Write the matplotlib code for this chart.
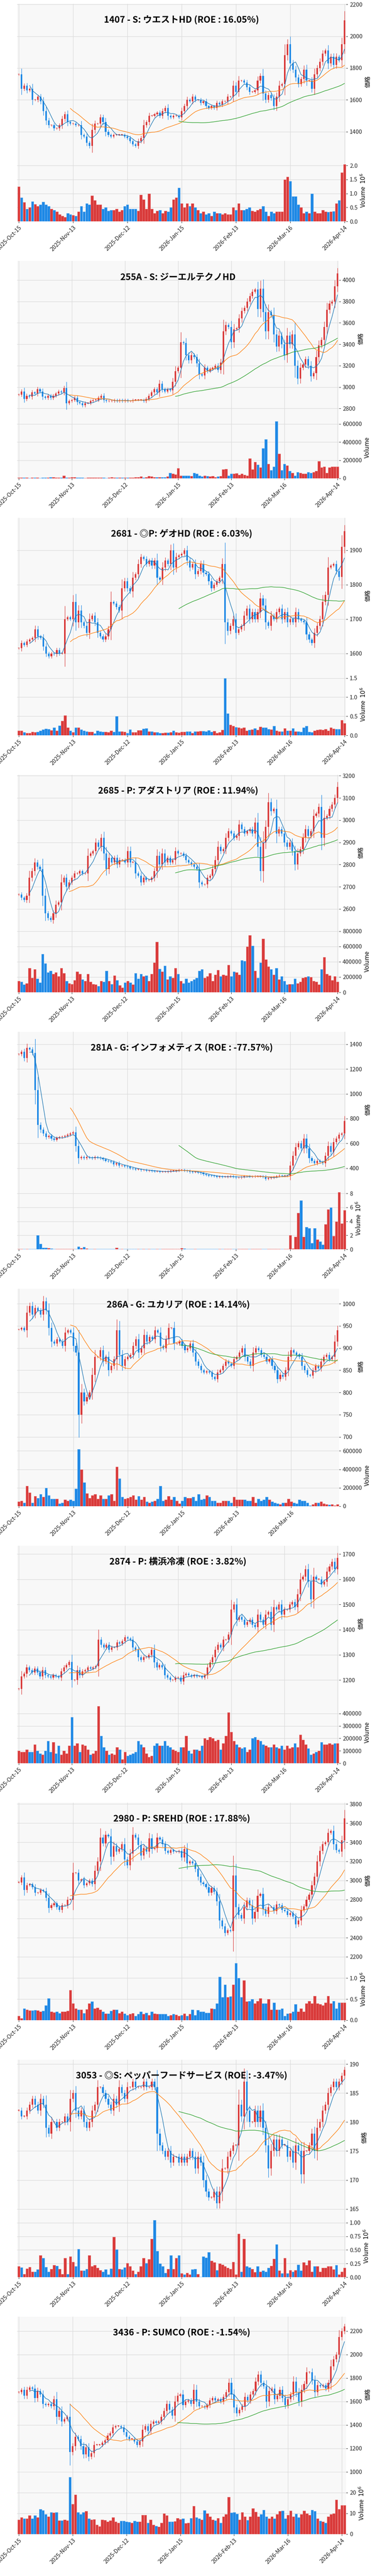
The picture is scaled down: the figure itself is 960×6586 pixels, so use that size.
import numpy as np
import pandas as pd
import matplotlib
matplotlib.use("Agg")
import matplotlib.pyplot as plt

plt.rcParams['font.family'] = ['Noto Sans CJK JP', 'DejaVu Sans']

date_ticks = [0, 20, 40, 60, 80, 100, 120]
date_labels = ['2025-Oct-15', '2025-Nov-13', '2025-Dec-12', '2026-Jan-15',
               '2026-Feb-13', '2026-Mar-16', '2026-Apr-14']

titles = [
    "1407 - S: ウエストHD (ROE : 16.05%)",
    "255A - S: ジーエルテクノHD",
    "2681 - ◎P: ゲオHD (ROE : 6.03%)",
    "2685 - P: アダストリア (ROE : 11.94%)",
    "281A - G: インフォメティス (ROE : -77.57%)",
    "286A - G: ユカリア (ROE : 14.14%)",
    "2874 - P: 横浜冷凍 (ROE : 3.82%)",
    "2980 - P: SREHD (ROE : 17.88%)",
    "3053 - ◎S: ペッパーフードサービス (ROE : -3.47%)",
    "3436 - P: SUMCO (ROE : -1.54%)",
]

close_1407 = [1760,1670,1690,1660,1670,1600,1600,1620,1590,1530,
 1470,1440,1440,1420,1420,1440,1480,1510,1460,1450,
 1450,1440,1440,1380,1370,1330,1310,1410,1450,1450,
 1490,1460,1400,1380,1370,1380,1380,1380,1380,1370,
 1360,1340,1320,1310,1340,1360,1440,1460,1500,1500,
 1510,1520,1500,1530,1550,1500,1490,1500,1500,1490,
 1530,1560,1600,1590,1620,1600,1600,1580,1590,1560,
 1550,1560,1550,1580,1570,1590,1590,1620,1620,1690,
 1650,1720,1720,1710,1680,1650,1650,1660,1720,1750,
 1640,1600,1630,1610,1560,1620,1690,1700,1880,1950,
 1830,1790,1740,1700,1730,1790,1720,1720,1670,1760,
 1800,1840,1890,1910,1830,1870,1820,1870,1850,1950,2100]
vol_1407 = [1.25,0.85,0.68,0.45,0.50,0.72,0.62,0.55,0.60,0.70,
 0.60,0.55,0.45,0.40,0.35,0.25,0.20,0.15,0.30,0.25,
 0.22,0.20,0.35,0.55,0.35,0.65,0.60,0.92,0.75,0.60,
 0.60,0.45,0.50,0.38,0.40,0.40,0.45,0.35,0.40,0.55,
 0.60,0.45,0.45,0.45,0.38,0.95,0.78,0.45,1.00,0.45,
 0.30,0.38,0.40,0.30,0.38,0.35,0.50,0.78,0.85,1.20,
 0.65,0.50,0.65,0.55,0.65,0.50,0.40,0.30,0.35,0.25,
 0.30,0.20,0.35,0.30,0.30,0.25,0.30,0.25,0.25,0.50,
 0.40,0.65,0.40,0.40,0.45,0.50,0.38,0.35,0.40,0.45,
 0.55,0.35,0.20,0.35,0.30,0.35,0.35,0.35,1.50,1.60,
 1.45,0.90,0.90,0.60,0.50,0.30,0.35,0.30,1.00,0.35,
 0.30,0.30,0.40,0.35,0.33,0.35,0.37,0.65,0.75,1.75,2.05]

close_255A = [2930,2960,2890,2920,2910,2950,2940,2980,2960,2910,
 2900,2920,2900,2920,2940,2960,2950,2990,2850,2870,
 2880,2900,2860,2850,2830,2850,2850,2870,2880,2880,
 2900,2920,2880,2870,2870,2870,2880,2870,2880,2870,
 2880,2870,2870,2880,2880,2880,2880,2870,2890,2920,
 2950,2980,2950,3030,2980,2960,2980,2970,3050,3150,
 3180,3420,3410,3300,3250,3300,3280,3220,3120,3110,
 3180,3150,3170,3180,3200,3160,3230,3520,3580,3560,
 3420,3540,3550,3640,3710,3740,3800,3850,3890,3910,
 3730,3920,3700,3520,3700,3670,3490,3380,3480,3400,
 3300,3480,3400,3490,3200,3080,3180,3210,3260,3200,
 3100,3130,3280,3390,3440,3560,3720,3780,3800,3940,4060]
vol_255A = [10000,8000,9000,7000,6000,8000,9000,7000,6000,8000,
 9000,10000,12000,15000,9000,8000,10000,30000,10000,8000,
 15000,12000,8000,10000,8000,6000,10000,9000,8000,7000,
 8000,9000,7000,6000,9000,12000,10000,8000,9000,10000,
 7000,8000,10000,8000,12000,15000,20000,10000,15000,25000,
 20000,12000,15000,15000,12000,15000,20000,60000,50000,45000,
 110000,30000,30000,30000,30000,25000,60000,50000,30000,20000,
 30000,25000,20000,25000,15000,20000,25000,100000,105000,30000,
 50000,50000,55000,40000,50000,40000,30000,220000,100000,180000,
 150000,120000,330000,430000,160000,90000,130000,630000,270000,90000,
 160000,140000,80000,60000,30000,70000,60000,50000,50000,70000,
 60000,70000,80000,190000,120000,130000,60000,120000,130000,130000,130000]

close_2681 = [1615,1630,1625,1635,1640,1645,1670,1650,1645,1620,
 1600,1592,1600,1598,1610,1600,1600,1700,1705,1700,
 1750,1690,1725,1690,1680,1660,1700,1710,1690,1660,
 1650,1640,1650,1670,1750,1745,1735,1725,1790,1810,
 1790,1780,1820,1830,1860,1880,1875,1860,1870,1855,
 1870,1820,1815,1850,1870,1860,1900,1850,1880,1885,
 1890,1900,1870,1850,1860,1830,1840,1860,1835,1830,
 1810,1790,1800,1810,1820,1860,1690,1665,1680,1700,
 1660,1670,1680,1710,1730,1700,1720,1700,1720,1760,
 1740,1690,1680,1710,1700,1720,1730,1700,1720,1690,
 1700,1690,1720,1700,1695,1690,1655,1640,1630,1660,
 1680,1700,1750,1770,1850,1855,1860,1840,1822,1910,1955]
vol_2681 = [0.12,0.12,0.08,0.06,0.06,0.09,0.08,0.09,0.12,0.15,
 0.17,0.16,0.13,0.20,0.12,0.26,0.38,0.52,0.20,0.12,
 0.08,0.20,0.20,0.15,0.12,0.10,0.09,0.09,0.05,0.12,
 0.10,0.09,0.09,0.08,0.12,0.09,0.50,0.10,0.10,0.09,
 0.06,0.15,0.08,0.08,0.13,0.13,0.17,0.18,0.10,0.10,
 0.08,0.08,0.06,0.06,0.07,0.07,0.08,0.12,0.08,0.07,
 0.09,0.09,0.10,0.10,0.06,0.10,0.10,0.11,0.11,0.10,
 0.13,0.09,0.11,0.06,0.08,0.14,1.50,0.57,0.28,0.25,
 0.22,0.20,0.18,0.20,0.12,0.14,0.15,0.18,0.14,0.23,
 0.20,0.20,0.16,0.15,0.25,0.12,0.10,0.10,0.18,0.12,
 0.12,0.18,0.10,0.10,0.09,0.20,0.25,0.09,0.08,0.12,
 0.14,0.15,0.14,0.16,0.12,0.20,0.17,0.16,0.16,0.40,0.32]

close_2685 = [2665,2650,2640,2660,2740,2770,2810,2790,2780,2660,
 2580,2560,2550,2580,2620,2630,2720,2740,2700,2720,
 2740,2760,2760,2770,2760,2760,2840,2850,2860,2900,
 2880,2920,2850,2780,2830,2810,2830,2800,2820,2820,
 2810,2860,2810,2810,2760,2750,2720,2740,2730,2730,
 2740,2770,2840,2800,2850,2810,2830,2810,2820,2860,
 2850,2850,2840,2820,2810,2800,2790,2780,2720,2710,
 2710,2740,2750,2780,2820,2880,2860,2870,2920,2950,
 2940,2920,2930,2980,2960,2940,2950,2960,2940,2990,
 2880,2770,2900,2970,3080,3040,3050,2940,2960,2940,
 2900,2880,2900,2860,2800,2850,2870,2920,2960,2930,
 2950,3020,3030,3060,2920,3010,3020,3050,3070,3100,3150]
vol_2685 = [150000,140000,100000,120000,320000,190000,300000,180000,130000,500000,
 380000,260000,280000,240000,260000,210000,320000,250000,150000,120000,
 110000,160000,270000,240000,170000,150000,240000,140000,110000,100000,
 80000,150000,140000,280000,150000,110000,220000,160000,90000,60000,
 130000,150000,130000,100000,250000,180000,240000,210000,220000,150000,
 240000,390000,660000,310000,270000,350000,170000,210000,190000,320000,
 240000,150000,120000,180000,130000,150000,170000,190000,280000,300000,
 190000,210000,250000,150000,230000,290000,210000,230000,220000,360000,
 210000,270000,260000,230000,420000,410000,600000,750000,610000,280000,
 190000,390000,700000,430000,340000,300000,230000,320000,170000,210000,
 150000,100000,110000,110000,180000,120000,140000,190000,200000,210000,
 200000,150000,140000,100000,300000,460000,240000,220000,160000,210000,140000,250000]

close_281A = [1320,1340,1290,1370,1360,1330,1030,750,710,680,
 650,660,640,630,645,650,655,660,670,680,
 690,580,480,490,480,490,485,480,490,485,
 480,470,460,455,450,430,440,420,420,415,
 410,400,395,390,390,385,385,380,380,378,
 375,375,372,372,372,375,378,378,380,385,
 385,380,378,370,368,368,365,360,350,345,
 340,338,335,330,332,330,330,332,335,330,
 325,325,330,335,335,333,333,335,335,335,
 330,315,320,325,330,335,340,338,338,340,
 420,500,570,600,560,640,560,480,460,440,
 460,450,440,500,580,530,610,640,670,680,780]
vol_281A = [0.03,0.03,0.03,0.03,0.03,0.03,0.03,2.0,0.8,0.25,
 0.2,0.15,0.1,0.05,0.08,0.05,0.03,0.03,0.03,0.05,
 0.05,0.03,0.4,0.15,0.35,0.1,0.03,0.03,0.03,0.03,
 0.03,0.03,0.03,0.03,0.03,0.03,0.2,0.05,0.03,0.03,
 0.03,0.05,0.03,0.03,0.03,0.05,0.03,0.08,0.05,0.03,
 0.03,0.03,0.03,0.05,0.03,0.03,0.03,0.03,0.03,0.05,
 0.15,0.12,0.05,0.03,0.03,0.03,0.03,0.03,0.03,0.03,
 0.03,0.03,0.03,0.03,0.03,0.03,0.03,0.03,0.03,0.03,
 0.05,0.03,0.03,0.03,0.03,0.03,0.03,0.03,0.03,0.03,
 0.03,0.03,0.03,0.03,0.05,0.03,0.03,0.03,0.03,0.03,
 2.0,0.1,1.8,5.2,7.0,1.8,3.2,3.0,0.9,3.0,
 1.4,1.1,0.7,3.6,5.7,6.0,1.9,4.0,8.2,3.7,5.6]

close_286A = [942,945,940,980,995,975,990,985,975,1005,
 985,945,915,910,920,915,905,935,940,935,
 905,890,750,800,780,790,800,840,880,880,
 895,870,880,850,860,875,940,885,860,875,
 880,885,905,920,890,900,930,915,925,920,
 940,935,905,900,920,945,945,910,910,915,
 905,895,900,910,890,870,860,850,845,848,
 845,835,830,845,850,860,870,865,860,875,
 880,890,900,880,870,860,890,900,895,885,
 880,870,875,860,850,830,840,835,850,880,
 895,890,885,880,860,850,840,838,850,860,
 855,870,880,885,875,880,915,940]
vol_286A = [50000,60000,40000,220000,150000,40000,110000,90000,130000,100000,
 200000,120000,80000,80000,80000,30000,40000,70000,60000,70000,
 60000,190000,620000,400000,260000,140000,90000,120000,130000,80000,
 120000,80000,80000,120000,130000,60000,430000,300000,100000,80000,
 90000,100000,120000,70000,110000,70000,100000,50000,40000,50000,
 60000,80000,220000,60000,70000,110000,70000,100000,60000,30000,
 60000,100000,90000,90000,100000,60000,130000,70000,80000,120000,
 100000,60000,60000,40000,40000,60000,60000,60000,40000,100000,
 70000,70000,70000,70000,60000,60000,100000,40000,80000,60000,
 70000,100000,70000,50000,40000,30000,20000,40000,40000,80000,
 50000,40000,30000,70000,60000,60000,40000,10000,20000,40000,
 40000,50000,30000,20000,15000,20000,10000,20000,110000,130000]

close_2874 = [1165,1215,1225,1250,1240,1230,1245,1230,1215,1240,
 1220,1215,1210,1220,1215,1210,1235,1250,1260,1272,
 1200,1200,1240,1220,1235,1240,1250,1245,1250,1255,
 1360,1340,1330,1340,1320,1330,1330,1350,1345,1355,
 1370,1365,1360,1330,1320,1290,1280,1290,1290,1300,
 1320,1270,1250,1260,1250,1220,1210,1200,1200,1210,
 1210,1195,1220,1225,1220,1215,1220,1215,1215,1210,
 1220,1250,1270,1290,1320,1340,1330,1360,1360,1380,
 1480,1500,1440,1450,1440,1420,1430,1440,1420,1410,
 1460,1440,1420,1460,1470,1420,1490,1480,1500,1460,
 1480,1480,1500,1510,1490,1540,1600,1610,1640,1590,
 1520,1610,1600,1600,1580,1590,1630,1650,1670,1640,1685]
vol_2874 = [100000,90000,90000,110000,90000,90000,150000,100000,80000,70000,
 100000,180000,90000,170000,80000,140000,70000,100000,80000,140000,
 370000,140000,160000,90000,150000,140000,110000,70000,80000,100000,
 460000,220000,130000,100000,70000,80000,70000,130000,110000,30000,
 90000,60000,70000,80000,90000,180000,150000,130000,80000,50000,
 60000,140000,160000,140000,140000,180000,140000,130000,110000,100000,
 90000,130000,130000,220000,100000,80000,110000,110000,100000,140000,
 200000,190000,210000,200000,180000,190000,110000,160000,220000,410000,
 250000,180000,150000,130000,120000,130000,90000,110000,200000,210000,
 190000,180000,150000,140000,130000,130000,150000,130000,120000,140000,
 110000,140000,120000,130000,160000,130000,230000,190000,150000,120000,
 70000,80000,90000,100000,170000,150000,150000,160000,150000,160000,160000]

close_2980 = [2980,3030,2900,2950,2960,2930,2870,2870,2900,2890,
 2820,2710,2740,2760,2720,2690,2740,2740,2800,2800,
 3080,3080,3000,3010,2950,2970,3000,2960,3100,3200,
 3450,3390,3480,3460,3250,3360,3300,3330,3380,3220,
 3160,3280,3480,3450,3370,3260,3340,3300,3440,3330,
 3340,3450,3430,3380,3310,3290,3320,3300,3300,3310,
 3240,3330,3180,3200,3180,3120,3040,2980,2960,2930,
 2870,2920,2880,2780,2580,2520,2450,2480,2470,3050,
 2720,2640,2600,2720,2790,2740,2600,2670,2840,2860,
 2700,2650,2720,2720,2680,2750,2740,2690,2680,2640,
 2660,2620,2540,2580,2690,2730,2800,2850,2950,3040,
 3200,3310,3380,3400,3500,3520,3380,3320,3300,3420,3650]
vol_2980 = [0.10,0.05,0.28,0.25,0.23,0.23,0.24,0.23,0.20,0.22,
 0.35,0.52,0.20,0.19,0.20,0.17,0.20,0.20,0.22,0.72,
 0.40,0.28,0.25,0.25,0.17,0.26,0.40,0.45,0.28,0.30,
 0.25,0.20,0.16,0.16,0.22,0.25,0.25,0.17,0.20,0.16,
 0.12,0.15,0.17,0.10,0.15,0.20,0.15,0.18,0.12,0.20,
 0.16,0.15,0.15,0.15,0.15,0.10,0.12,0.15,0.13,0.10,
 0.12,0.16,0.10,0.15,0.25,0.12,0.24,0.20,0.20,0.18,
 0.18,0.28,0.27,0.40,1.03,0.55,0.85,0.55,0.57,0.85,
 1.36,1.00,0.55,0.95,0.45,0.46,0.50,0.40,0.46,0.52,
 0.40,0.40,0.50,0.25,0.42,0.25,0.25,0.28,0.10,0.16,
 0.17,0.20,0.38,0.20,0.28,0.20,0.40,0.46,0.40,0.58,
 0.40,0.38,0.35,0.42,0.58,0.40,0.46,0.28,0.42,0.42,0.42]

close_3053 = [182,181,181,182,183,184,183,182,184,183,
 179,178,180,180,179,180,180,181,180,184,
 185,182,181,182,180,179,180,182,183,186,
 186,185,184,183,182,184,183,186,185,184,
 186,186,187,186,186,186,187,186,186,187,
 186,178,176,175,174,175,173,174,174,173,
 174,173,174,175,174,172,174,173,170,168,
 167,167,168,166,168,172,172,174,175,176,
 176,183,181,187,182,180,180,182,180,182,
 179,176,172,175,177,175,177,176,176,174,
 175,173,176,175,171,175,175,176,178,175,
 179,180,182,183,185,186,187,186,187,188,189]
vol_3053 = [0.20,0.18,0.06,0.16,0.19,0.10,0.10,0.14,0.40,0.35,
 0.19,0.10,0.15,0.22,0.21,0.15,0.06,0.35,0.06,0.38,
 0.28,0.20,0.52,0.12,0.12,0.15,0.40,0.20,0.22,0.17,
 0.13,0.10,0.14,0.05,0.16,0.74,0.51,0.15,0.14,0.18,
 0.26,0.20,0.12,0.06,0.10,0.20,0.35,0.26,0.33,0.70,
 1.05,0.48,0.25,0.20,0.08,0.15,0.40,0.15,0.35,0.40,
 0.07,0.05,0.08,0.05,0.14,0.15,0.06,0.01,0.38,0.36,
 0.46,0.30,0.27,0.13,0.25,0.23,0.20,0.17,0.15,0.28,
 0.05,0.80,0.10,0.70,0.20,0.18,0.15,0.09,0.20,0.10,
 0.12,0.10,0.17,0.21,0.34,0.60,0.12,0.07,0.35,0.07,
 0.13,0.10,0.13,0.23,0.12,0.27,0.22,0.31,0.10,0.20,
 0.20,0.10,0.17,0.17,0.20,0.20,0.14,0.22,0.05,0.10,0.17]

close_3436 = [1680,1700,1650,1700,1720,1710,1630,1690,1660,1580,
 1570,1580,1560,1620,1470,1520,1430,1450,1470,1170,
 1220,1300,1280,1220,1150,1210,1130,1160,1230,1230,
 1230,1250,1270,1310,1330,1380,1390,1390,1380,1340,
 1300,1280,1280,1260,1230,1260,1360,1390,1350,1410,
 1430,1420,1430,1470,1520,1580,1530,1480,1600,1650,
 1660,1570,1600,1610,1580,1700,1600,1560,1560,1550,
 1570,1610,1630,1610,1620,1600,1640,1680,1760,1660,
 1550,1500,1530,1560,1640,1610,1660,1690,1770,1830,
 1760,1730,1600,1690,1710,1620,1650,1700,1630,1570,
 1620,1660,1770,1680,1600,1700,1750,1850,1850,1780,
 1680,1740,1730,1740,1710,1760,1900,1960,2000,2150,2200,2240]
vol_3436 = [7,8,7.5,7.5,9,7.5,9,8,12,11.5,
 9.5,8.5,10.5,10.3,10.5,6.5,6.5,7,6.5,27.5,
 14.5,19,10.5,9.5,10.5,11,7.5,7,7.2,4.5,
 3.8,7,6.8,6,6.5,8,6,5.5,6.3,6.3,
 6,5.8,5.5,6.3,6,6,9.2,9.3,5.5,7,
 4.5,4,3.5,5.5,10,9,6,6,6.2,7.8,
 7.2,7.5,5.3,5.5,7.8,13.5,8,7.5,7,11.5,
 10,8.5,7,6.5,7.8,5.5,8.5,9.5,17.8,10.3,
 10.5,9.8,7,10.5,8.5,6.8,8.5,12.5,10.8,8.5,
 9.5,11.6,8.5,7.5,8.5,7.5,9.5,11,11.2,7.5,
 9.2,11.3,8.5,9.8,8,9.5,11.3,10,9.3,11.7,
 11,7.5,6.3,6,5.5,8.5,9.5,10,16.5,12,14,14]

panels = [
    (close_1407, vol_1407, True), (close_255A, vol_255A, False),
    (close_2681, vol_2681, True), (close_2685, vol_2685, False),
    (close_281A, vol_281A, True), (close_286A, vol_286A, False),
    (close_2874, vol_2874, False), (close_2980, vol_2980, True),
    (close_3053, vol_3053, True), (close_3436, vol_3436, True),
]

UP = '#d93a3a'
DOWN = '#1e88e5'
UP_EDGE = '#e88080'
DOWN_EDGE = '#7ab8f0'
W, H = 960, 6586
fig = plt.figure(figsize=(W / 100, H / 100), dpi=100)

def rect(l, t, r, b):
    return [l / W, 1 - b / H, (r - l) / W, (b - t) / H]

for k, (title, (cl, vo, mil)) in enumerate(zip(titles, panels)):
    n = min(len(cl), len(vo))
    c = np.array(cl[:n], float)
    v = np.array(vo[:n], float)
    o = np.concatenate([[c[0]], c[:-1]])
    up = c >= o
    body = np.abs(c - o)
    wick = body * 0.35 + (c.max() - c.min()) * 0.008
    hi = np.maximum(o, c) + wick
    lo = np.minimum(o, c) - wick
    x = np.arange(n)
    T = 10 + 657 * k
    R = 886 if mil else 868
    axp = fig.add_axes(rect(44, T, R, T + 398))
    axv = fig.add_axes(rect(44, T + 398, R, T + 556), sharex=axp)
    for ax in (axp, axv):
        ax.set_facecolor('#f8f8f8')
        ax.grid(True, color='#dcdcdc', lw=1)
        ax.set_axisbelow(True)
        for s in ax.spines.values():
            s.set_visible(False)
        ax.yaxis.tick_right()
        ax.yaxis.set_label_position('right')
        ax.tick_params(labelsize=10.5, length=3, colors='#222222')
    cols = np.where(up, UP, DOWN)
    edges = np.where(up, UP_EDGE, DOWN_EDGE)
    axp.vlines(x, lo, hi, colors=cols, lw=0.9, zorder=2)
    axp.bar(x, np.maximum(body, (c.max() - c.min()) * 0.004),
            bottom=np.minimum(o, c), width=0.6, color=cols, zorder=3)
    s = pd.Series(c)
    axp.plot(x, s.rolling(5).mean(), color='#1f77b4', lw=1.0, zorder=4)
    axp.plot(x, s.rolling(20).mean(), color='#ff7f0e', lw=1.0, zorder=4)
    axp.plot(x, s.rolling(60).mean(), color='#2ca02c', lw=1.0, zorder=4)
    axp.set_ylabel('価格', fontsize=11)
    axp.text(0.5, 0.895, title, transform=axp.transAxes, ha='center', va='center',
             fontsize=16.5, fontweight='bold')
    plt.setp(axp.get_xticklabels(), visible=False)
    axv.bar(x, v, width=0.95, color=cols, edgecolor=edges, lw=0.6, zorder=3)
    axv.set_ylim(0, v.max() * 1.08)
    axv.set_ylabel(r'Volume  $10^6$' if mil else 'Volume', fontsize=11)
    axv.ticklabel_format(axis='y', style='plain', useOffset=False)
    axv.set_xticks(date_ticks)
    axv.set_xticklabels(date_labels, rotation=45, ha='right', rotation_mode='anchor',
                        fontsize=10.5)
    axv.set_xlim(-0.6, n - 0.4)

fig.savefig('out.png', dpi=100)
